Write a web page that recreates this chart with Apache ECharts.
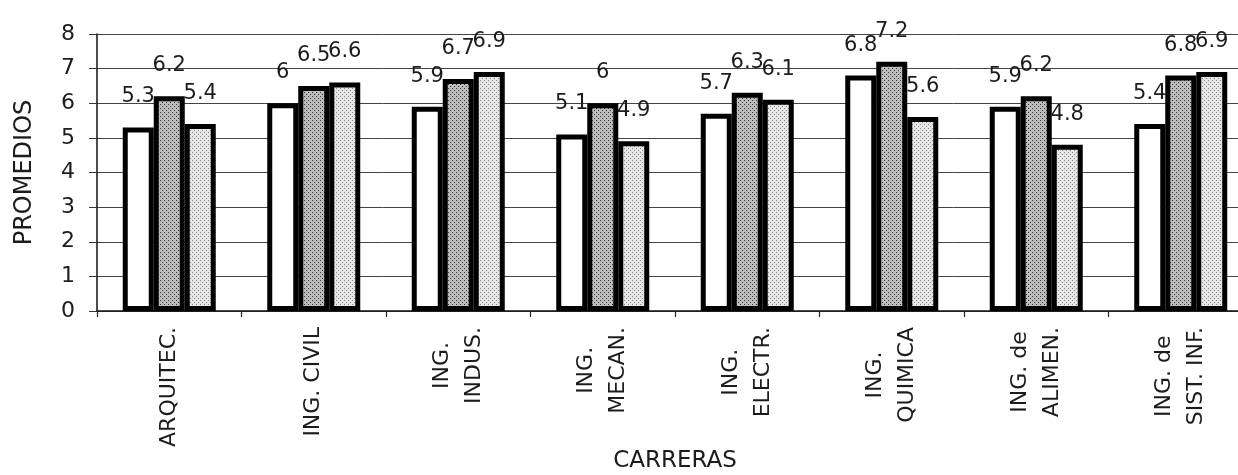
<!DOCTYPE html>
<html>
<head>
<meta charset="utf-8">
<script src="https://cdn.jsdelivr.net/npm/echarts@6/dist/echarts.min.js"></script>
<style>
  html, body { margin: 0; padding: 0; background: #fff; }
  #chart { width: 1238px; height: 475px; }
</style>
</head>
<body>
<div id="chart"></div>
<script>
// Career names (line breaks as printed under the axis)
const categories = [
  'ARQUITEC.',
  'ING. CIVIL',
  'ING.\nINDUS.',
  'ING.\nMECAN.',
  'ING.\nELECTR.',
  'ING.\nQUIMICA',
  'ING. de\nALIMEN.',
  'ING. de\nSIST. INF.'
];

// Average grades per career, three groups
const serieA = [5.3, 6, 5.9, 5.1, 5.7, 6.8, 5.9, 5.4];
const serieB = [6.2, 6.5, 6.7, 6, 6.3, 7.2, 6.2, 6.8];
const serieC = [5.4, 6.6, 6.9, 4.9, 6.1, 5.6, 4.8, 6.9];

const yTicks = [0, 1, 2, 3, 4, 5, 6, 7, 8];

const FONT = '"DejaVu Sans", sans-serif';
const INK = '#1c1c1c';

// Dotted screen fills for the shaded bars
function stipple(bg, dot, size, dots) {
  const c = document.createElement('canvas');
  c.width = c.height = size;
  const g = c.getContext('2d');
  g.fillStyle = bg;
  g.fillRect(0, 0, size, size);
  g.fillStyle = dot;
  dots.forEach(([x, y]) => g.fillRect(x, y, 1, 1));
  return { image: c, repeat: 'repeat' };
}
const darkFill = stipple('#bdbdbd', '#333333', 4, [[0, 0], [2, 2]]);
const lightFill = stipple('#e6e6e6', '#8a8a8a', 4, [[0, 0], [2, 2]]);

const chart = echarts.init(document.getElementById('chart'), null, { renderer: 'canvas' });

function barSeries(name, data, fill) {
  return {
    name: name,
    type: 'bar',
    data: data,
    barWidth: 31,
    barGap: '0%',
    itemStyle: { color: fill, borderColor: '#000', borderWidth: 5 },
    label: {
      show: true,
      position: 'top',
      distance: 20,
      fontFamily: FONT,
      fontSize: 21,
      color: INK
    }
  };
}

chart.setOption({
  animation: false,
  backgroundColor: '#fff',
  grid: {
    left: 97, width: 1156, top: 34, bottom: 164,
    containLabel: false, outerBoundsMode: 'none'
  },
  xAxis: {
    type: 'category',
    data: categories,
    name: 'CARRERAS',
    nameLocation: 'middle',
    nameGap: 139,
    nameMoveOverlap: false,
    nameTextStyle: { fontFamily: FONT, fontSize: 23, color: INK },
    axisLine: { lineStyle: { color: '#111', width: 1.5 } },
    axisTick: { show: true, length: 6, lineStyle: { color: '#222', width: 1.2 } },
    axisLabel: {
      interval: 0,
      rotate: 90,
      margin: 16,
      formatter: function (v) {
        return v.split('\n').map(function (s) { return '{c|' + s + '}'; }).join('\n');
      },
      rich: {
        c: { align: 'center', fontFamily: FONT, fontSize: 22, color: INK, lineHeight: 32 }
      }
    }
  },
  yAxis: {
    type: 'value',
    min: yTicks[0],
    max: yTicks[yTicks.length - 1],
    interval: 1,
    name: 'PROMEDIOS',
    nameLocation: 'middle',
    nameGap: 60,
    nameMoveOverlap: false,
    nameTextStyle: { fontFamily: FONT, fontSize: 24, color: INK },
    axisLine: { show: true, lineStyle: { color: '#111', width: 1.5 } },
    axisTick: { show: true, length: 8, lineStyle: { color: '#333', width: 1 } },
    axisLabel: { fontFamily: FONT, fontSize: 22, color: INK, margin: 22 },
    splitLine: { show: true, lineStyle: { color: '#444', width: 1 } }
  },
  series: [
    barSeries('A', serieA, '#ffffff'),
    barSeries('B', serieB, darkFill),
    barSeries('C', serieC, lightFill)
  ]
});
</script>
</body>
</html>
